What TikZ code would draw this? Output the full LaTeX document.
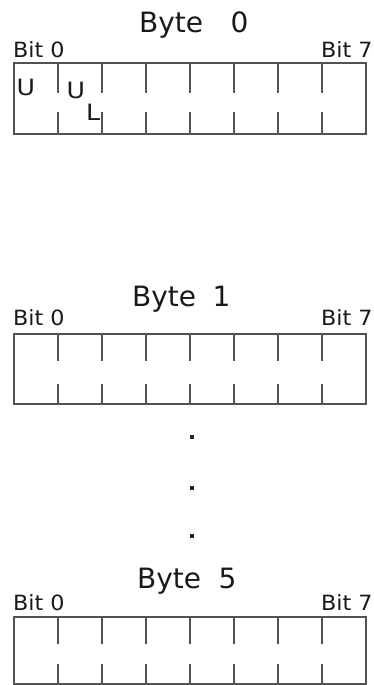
\documentclass[tikz,border=0pt]{standalone}
\usepackage{fontspec}
\setmainfont{DejaVu Sans}
\tikzset{
  boxline/.style={draw=black!68, line width=2pt},
  tickline/.style={draw=black!68, line width=2pt},
  title/.style={anchor=base west, inner sep=0pt, text=black!90, font=\fontsize{28}{30}\selectfont},
  bitlbl/.style={anchor=base west, inner sep=0pt, text=black!90, font=\fontsize{21}{24}\selectfont},
  flag/.style={anchor=base west, inner sep=0pt, text=black!90, font=\fontsize{22.5}{26}\selectfont},
  dotmark/.style={fill=black!85, minimum size=4pt, inner sep=0pt, draw=none}
}
\begin{document}
\begin{tikzpicture}[x=1pt,y=-1pt]
\useasboundingbox (0,0) rectangle (373,685);
% Byte 0
\node[title] (t0) at (139,33) {Byte\hspace{27.5pt}0};
\node[bitlbl] (b0l) at (13,57) {\scalebox{1.06}[1]{Bit 0}};
\node[bitlbl] (b0r) at (321,57) {\scalebox{1.06}[1]{Bit 7}};
\draw[boxline] (14,63) rectangle (366,134);
\foreach \k in {1,...,7} {
  \draw[tickline] (14+44*\k,63) -- (14+44*\k,93);
  \draw[tickline] (14+44*\k,112) -- (14+44*\k,134);
}
\node[flag] (u1) at (16.5,95) {\scalebox{1.12}[1]{U}};
\node[flag] (u2) at (66.5,98) {\scalebox{1.12}[1]{U}};
\node[flag] (l1) at (86,120) {\scalebox{1.12}[1]{L}};
% Byte 1
\node[title] (t1) at (132,306) {Byte\hspace{16.5pt}1};
\node[bitlbl] (b1l) at (13,325) {\scalebox{1.06}[1]{Bit 0}};
\node[bitlbl] (b1r) at (321,325) {\scalebox{1.06}[1]{Bit 7}};
\draw[boxline] (14,334) rectangle (366,404);
\foreach \k in {1,...,7} {
  \draw[tickline] (14+44*\k,334) -- (14+44*\k,361);
  \draw[tickline] (14+44*\k,384) -- (14+44*\k,404);
}
% dots
\node[dotmark] (d1) at (192,437) {};
\node[dotmark] (d2) at (192,488) {};
\node[dotmark] (d3) at (192,536) {};
% Byte 5
\node[title] (t5) at (137,588) {Byte\hspace{17.5pt}5};
\node[bitlbl] (b5l) at (13,610) {\scalebox{1.06}[1]{Bit 0}};
\node[bitlbl] (b5r) at (321,610) {\scalebox{1.06}[1]{Bit 7}};
\draw[boxline] (14,617) rectangle (366,684);
\foreach \k in {1,...,7} {
  \draw[tickline] (14+44*\k,617) -- (14+44*\k,644);
  \draw[tickline] (14+44*\k,664) -- (14+44*\k,684);
}
\end{tikzpicture}
\end{document}
